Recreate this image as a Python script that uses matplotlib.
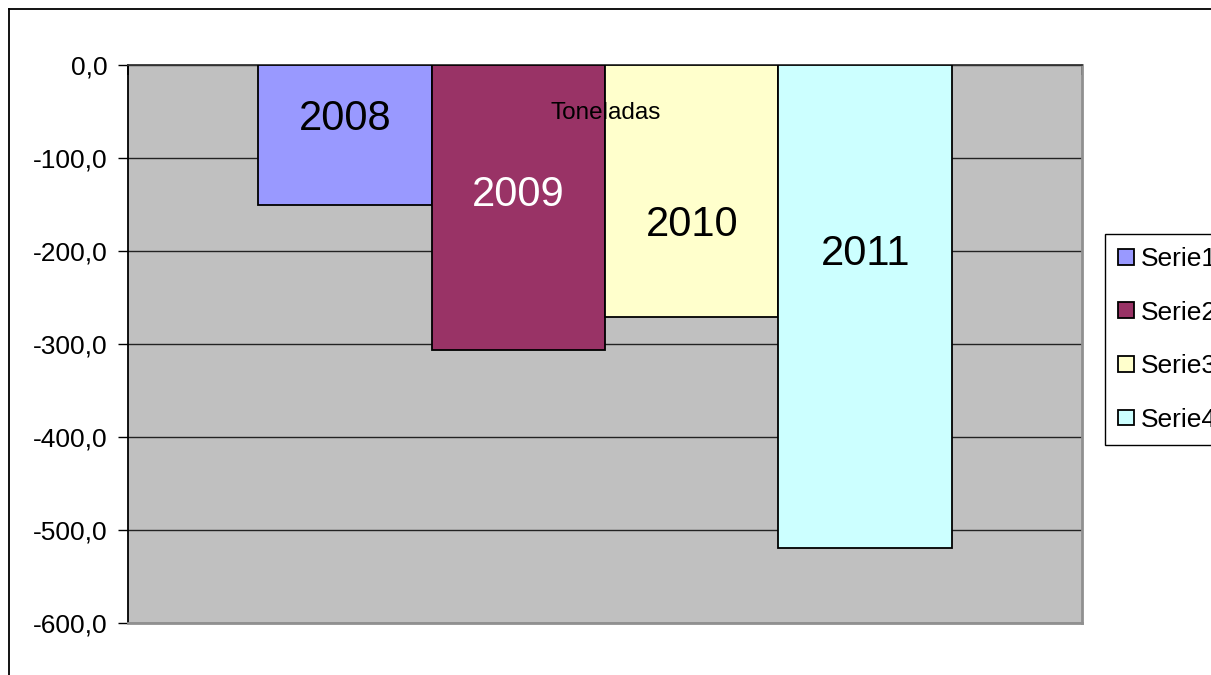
import matplotlib
matplotlib.use("Agg")
import matplotlib.pyplot as plt
from matplotlib.lines import Line2D
import numpy as np

plt.rcParams['font.family'] = ['Liberation Sans', 'DejaVu Sans']

series = ["Serie1", "Serie2", "Serie3", "Serie4"]
values = [-150.0, -306.0, -271.0, -519.0]
bar_labels = ["2008", "2009", "2010", "2011"]
label_baselines = [-70.0, -152.0, -184.0, -215.0]
label_colors = ["black", "white", "black", "black"]
colors = ["#9999FF", "#993366", "#FFFFCC", "#CCFFFF"]
yticks = [0, -100, -200, -300, -400, -500, -600]
title = "Toneladas"

W, H = 1211, 675
fig = plt.figure(figsize=(W / 100, H / 100), dpi=100)

# outer chart frame (partially off-figure)
fig.add_artist(Line2D([9 / W, 9 / W], [1 - 9 / H, -0.1], transform=fig.transFigure, color="black", lw=1.3))
fig.add_artist(Line2D([9 / W, 1.1], [1 - 9 / H, 1 - 9 / H], transform=fig.transFigure, color="black", lw=1.3))

ax = fig.add_axes([128 / W, 1 - 623 / H, (1082 - 128) / W, (623 - 65) / H])
ax.set_facecolor("#C0C0C0")

n = len(values)
w = 1 / (n + 1.5)
start = -0.5 + 0.75 * w
xs = [start + w * (i + 0.5) for i in range(n)]
for i in range(n):
    ax.bar(xs[i], values[i], width=w, color=colors[i], edgecolor="black", linewidth=1.3,
           label=series[i], zorder=3)
    ax.text(xs[i], label_baselines[i], bar_labels[i], ha="center", va="baseline",
            fontsize=30, color=label_colors[i], zorder=4)

ax.set_xlim(-0.5, 0.5)
ax.set_ylim(-600, 0)
ax.set_yticks(yticks)
ax.set_yticklabels([f"{v:.1f}".replace(".", ",") for v in yticks], fontsize=19)
ax.tick_params(axis="y", length=7, width=1, direction="out", pad=8, color="black")
ax.grid(axis="y", color="#222222", lw=1, zorder=1)
ax.set_axisbelow(True)

ax.xaxis.tick_top()
ax.set_xticks([-0.5, 0.5])
ax.set_xticklabels(["", ""])
ax.tick_params(axis="x", length=7, width=1.3, direction="in", color="black")

ax.spines["left"].set_color("black")
ax.spines["left"].set_linewidth(1.3)
ax.spines["top"].set_color("#333333")
ax.spines["top"].set_linewidth(1.3)
ax.spines["right"].set_color("#909090")
ax.spines["right"].set_linewidth(2)
ax.spines["bottom"].set_color("#909090")
ax.spines["bottom"].set_linewidth(2)

fig.text(606 / W, 1 - 113 / H, title, ha="center", va="center", fontsize=17.5, color="black", zorder=10)

leg = fig.legend(loc="upper left", bbox_to_anchor=(1105 / W, 1 - 234 / H), fontsize=19,
                 frameon=True, fancybox=False, edgecolor="black", framealpha=1,
                 handlelength=0.6, handleheight=0.55, handletextpad=0.25,
                 labelspacing=1.12, borderpad=0.5, borderaxespad=0)
leg.get_frame().set_linewidth(1)

fig.savefig("out.png", dpi=100)
